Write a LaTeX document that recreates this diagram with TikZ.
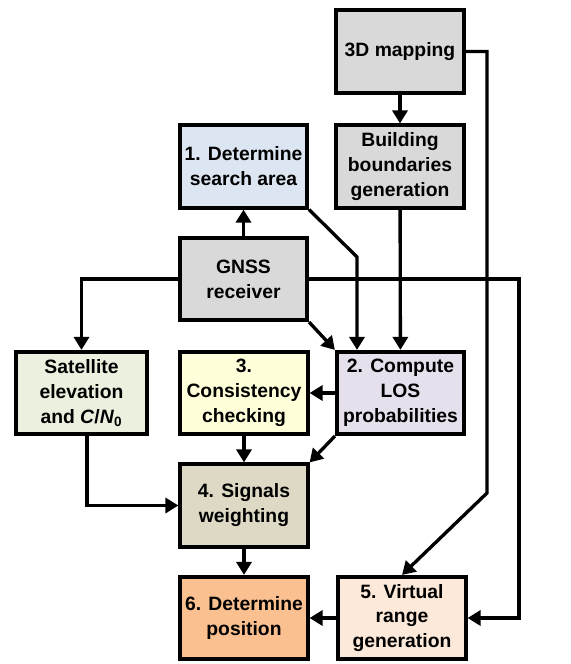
\documentclass[tikz,border=0pt]{standalone}
\usepackage{fontspec}
\setmainfont{Liberation Sans}
\usetikzlibrary{arrows.meta}
\definecolor{boxgray}{HTML}{D9D9D9}
\definecolor{boxblue}{HTML}{DCE6F2}
\definecolor{boxgreen}{HTML}{EBF1DE}
\definecolor{boxyellow}{HTML}{FFFFD9}
\definecolor{boxlilac}{HTML}{E5E0EC}
\definecolor{boxtan}{HTML}{DDD9C4}
\definecolor{boxorange}{HTML}{FAC090}
\definecolor{boxpeach}{HTML}{FDE9D9}
\begin{document}
\begin{tikzpicture}[x=0.02cm,y=-0.02cm,
  box/.style={draw, line width=2.1pt, minimum width=2.55cm, minimum height=1.65cm,
    inner sep=1pt, align=center, font=\bfseries\fontsize{11}{14.2}\selectfont},
  arr/.style={line width=1.9pt, -{Triangle[length=0.26cm,width=0.3cm]}}]
\useasboundingbox (0,0) rectangle (571,664);
\node[box, fill=boxgray] (map) at (400,51.5) {3D mapping};
\node[box, fill=boxgray] (bound) at (400,166.5) {Building\\boundaries\\generation};
\node[box, fill=boxblue] (search) at (243.5,166.5) {1. Determine\\search area};
\node[box, fill=boxgray] (gnss) at (243.5,279) {GNSS\\receiver};
\node[box, fill=boxgreen, minimum width=2.61cm] (sat) at (81.5,393) {Satellite\\elevation\\and \textit{C}/\textit{N}$_{\mathbf 0}$};
\node[box, fill=boxyellow] (consist) at (244,393) {3.\\Consistency\\checking};
\node[box, fill=boxlilac] (los) at (400.5,393) {2. Compute\\LOS\\probabilities};
\node[box, fill=boxtan] (weight) at (244,505.5) {4. Signals\\weighting};
\node[box, fill=boxorange] (pos) at (244,618) {6. Determine\\position};
\node[box, fill=boxpeach] (virt) at (402,618) {5. Virtual\\range\\generation};

\coordinate (m1) at (487,493);
\coordinate (s1) at (357,257);
\coordinate (g1) at (519,279);
\coordinate (c1) at (87,0);

\draw[arr] (map.east) -| (m1) -- (virt.north);
\draw[arr] (map) -- (bound);
\draw[arr] (bound) -- (los);
\draw[arr] (search.south east) -- (s1) -- (s1 |- los.north);
\draw[arr] (gnss) -- (search);
\draw[arr] (gnss.west) -| (sat.north);
\draw[arr] (gnss.east) -- (g1) |- (virt.east);
\draw[arr] (gnss.south east) -- (los.north west);
\draw[arr] (los.west) -- (consist.east);
\draw[arr] (los.south west) -- (weight.north east);
\draw[arr] (consist) -- (weight);
\draw[arr] (sat.south -| c1) |- (weight.west);
\draw[arr] (weight) -- (pos);
\draw[arr] (virt.west) -- (pos.east);
\end{tikzpicture}
\end{document}
